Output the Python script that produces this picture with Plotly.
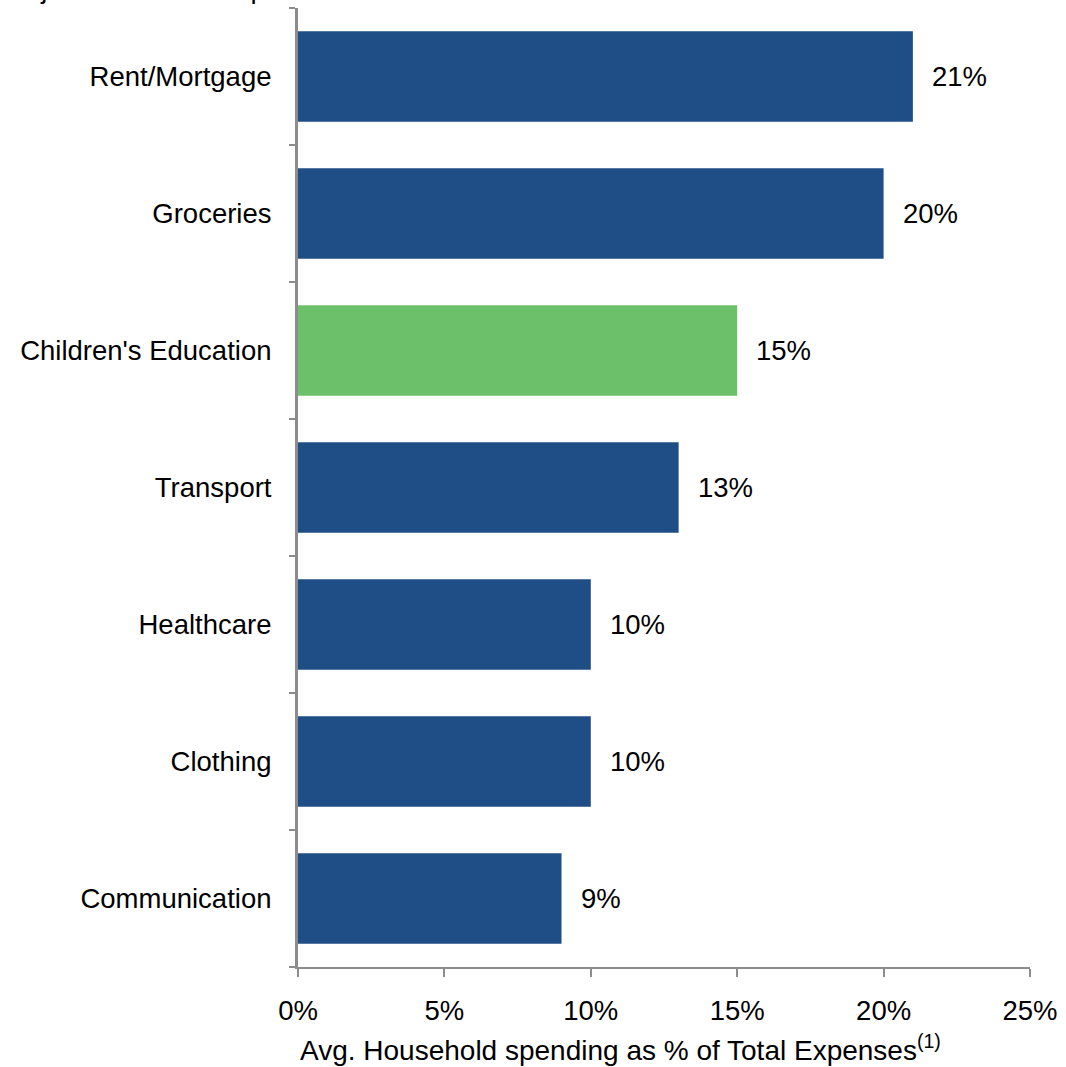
import plotly.graph_objects as go

# Household expense categories and their share of total spending (%)
categories = ["Rent/Mortgage", "Groceries", "Children's Education", "Transport",
              "Healthcare", "Clothing", "Communication"]
shares = [21, 20, 15, 13, 10, 10, 9]
highlight = "Children's Education"
x_ticks = [0, 5, 10, 15, 20, 25]
x_tick_labels = ["0%", "5%", "10%", "15%", "20%", "25%"]
x_title = "Avg. Household spending as % of Total Expenses<sup>(1)</sup>"
heading = "Major Household Expenses"

BLUE = "#1F4E87"
GREEN = "#6CC069"
AXIS = "#8C8C8C"
FONT = "Liberation Sans, Arial, sans-serif"
SIZE = 27.5

colors = [GREEN if c == highlight else BLUE for c in categories]

fig = go.Figure(go.Bar(
    x=shares,
    y=categories,
    orientation="h",
    marker=dict(color=colors, line=dict(width=0)),
    width=0.66,
    hoverinfo="x+y",
))

# Value labels placed just right of each bar end
for cat, val in zip(categories, shares):
    fig.add_annotation(
        x=val, y=cat, xref="x", yref="y",
        text=f"{val}%",
        xanchor="left", yanchor="middle",
        xshift=17,
        showarrow=False,
        font=dict(family=FONT, size=SIZE, color="#000000"),
    )

fig.update_layout(
    width=1066,
    height=1067,
    margin=dict(l=298, r=34, t=8, b=100),
    paper_bgcolor="white",
    plot_bgcolor="white",
    showlegend=False,
    bargap=0.34,
    font=dict(family=FONT, size=SIZE, color="#000000"),
)

fig.update_xaxes(
    range=[0, 25],
    tickvals=x_ticks,
    ticktext=x_tick_labels,
    showgrid=False,
    zeroline=False,
    showline=True,
    linecolor=AXIS,
    linewidth=2,
    ticks="outside",
    ticklen=8,
    tickwidth=2,
    tickcolor=AXIS,
    ticklabelstandoff=10,
    tickfont=dict(family=FONT, size=SIZE),
)

fig.update_yaxes(
    categoryorder="array",
    categoryarray=categories[::-1],
    showgrid=False,
    zeroline=False,
    showline=True,
    linecolor=AXIS,
    linewidth=3,
    ticks="outside",
    tickson="boundaries",
    ticklen=6,
    tickwidth=2,
    tickcolor=AXIS,
    ticklabelstandoff=18,
    tickfont=dict(family=FONT, size=SIZE),
)

# X-axis caption, left-aligned with the axis origin
fig.add_annotation(
    text=x_title,
    xref="paper", yref="paper",
    x=0, y=0,
    xanchor="left", yanchor="top",
    yshift=-61,
    showarrow=False,
    font=dict(family=FONT, size=28, color="#000000"),
)

# Chart heading sitting at the very top edge of the page
fig.add_annotation(
    text=heading,
    xref="paper", yref="paper",
    x=-298 / 734, y=1.0,
    xanchor="left", yanchor="bottom",
    yshift=2,
    showarrow=False,
    font=dict(family=FONT, size=SIZE, color="#000000"),
)

fig.write_html("out.html")
